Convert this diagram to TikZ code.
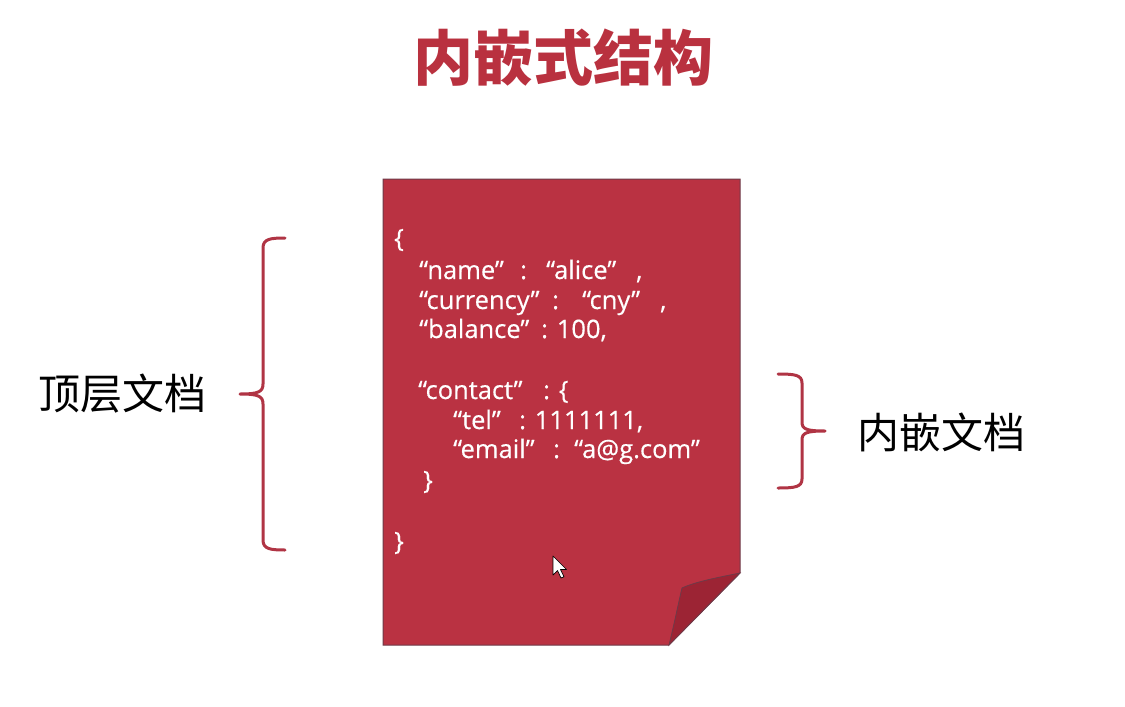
\documentclass[tikz,border=0pt]{standalone}
\usepackage{fontspec}
\setmainfont{Open Sans}
\newfontfamily\cjk{Noto Sans CJK SC}
\newfontfamily\codefont[FakeBold=0.4]{Open Sans}
\definecolor{docred}{HTML}{BA3242}
\definecolor{flapred}{HTML}{9C2434}
\definecolor{edge}{HTML}{6E3A48}
\definecolor{titlered}{HTML}{B9313F}
\definecolor{bracered}{HTML}{B03444}
\begin{document}
\begin{tikzpicture}[x=1pt,y=-1pt,
  code/.style={anchor=base west,inner sep=0pt,text=white,font=\codefont\fontsize{25.5}{25.5}\selectfont},
  label/.style={inner sep=0pt,text=black,font=\cjk\fontsize{42}{42}\selectfont},
  brace/.style={draw=bracered,line width=3pt,line cap=round,line join=round}]
\useasboundingbox[fill=white] (0,0) rectangle (1125,707);

% title
\node[inner sep=0pt,text=titlered,font=\cjk\bfseries\fontsize{60}{60}\selectfont] (title) at (563,58) {内嵌式结构};

% the document sheet with its folded corner
\fill[docred,draw=edge,line width=1pt] (383,179) -- (740,179) -- (740,573) -- (669,645) -- (383,645) -- cycle;
\fill[flapred,draw=edge,line width=0.8pt] (740,573) .. controls (715,578) and (695,582) .. (682,588)
  .. controls (678,605) and (674,625) .. (669,645) -- cycle;

% JSON content
\node[code,anchor=west] (ob) at (394,240) {\{};
\node[code] (k1) at (419,279) {“name”};
\node[code] (c1) at (520,279) {:};
\node[code] (v1) at (546,279) {“alice”};
\node[code] (m1) at (636,279) {,};
\node[code] (k2) at (419,309) {“currency”};
\node[code] (c2) at (552,309) {:};
\node[code] (v2) at (582,309) {“cny”};
\node[code] (m2) at (660,309) {,};
\node[code] (k3) at (419,338) {“balance”};
\node[code] (v3) at (541,338) {: 100,};
\node[code] (k4) at (418,399) {“contact”};
\node[code] (v4) at (543,399) {: \{};
\node[code] (k5) at (453,429) {“tel”};
\node[code] (v5) at (519,429) {: 1111111,};
\node[code] (k6) at (453,458) {“email”};
\node[code] (c6) at (553,458) {:};
\node[code] (v6) at (574,458) {“a@g.com”};
\node[code,anchor=west] (cb1) at (423,482) {\}};
\node[code,anchor=west] (cb2) at (394,543) {\}};

% mouse pointer
\filldraw[fill=white,draw=black,line width=0.7pt,line join=round]
  (553,556) -- (553,575) -- (557.5,570.5) -- (561,578) -- (564,576.8) -- (560.5,569.5) -- (566.5,569.5) -- cycle;

% left brace: top-level document
\draw[brace] (285,238) .. controls (270,238) and (263,239) .. (263,248) -- (263,384)
  .. controls (263,392) and (258,394) .. (240,394)
  .. controls (258,394) and (263,396) .. (263,404) -- (263,540)
  .. controls (263,549) and (270,550) .. (285,550);
\node[label] (top) at (122,394) {顶层文档};

% right brace: embedded document
\draw[brace] (778,374) .. controls (795,374) and (802,375) .. (802,383) -- (802,422)
  .. controls (802,429) and (806,431) .. (825,431)
  .. controls (806,431) and (802,433) .. (802,440) -- (802,479)
  .. controls (802,487) and (795,488) .. (778,488);
\node[label] (sub) at (941,432) {内嵌文档};
\end{tikzpicture}
\end{document}
